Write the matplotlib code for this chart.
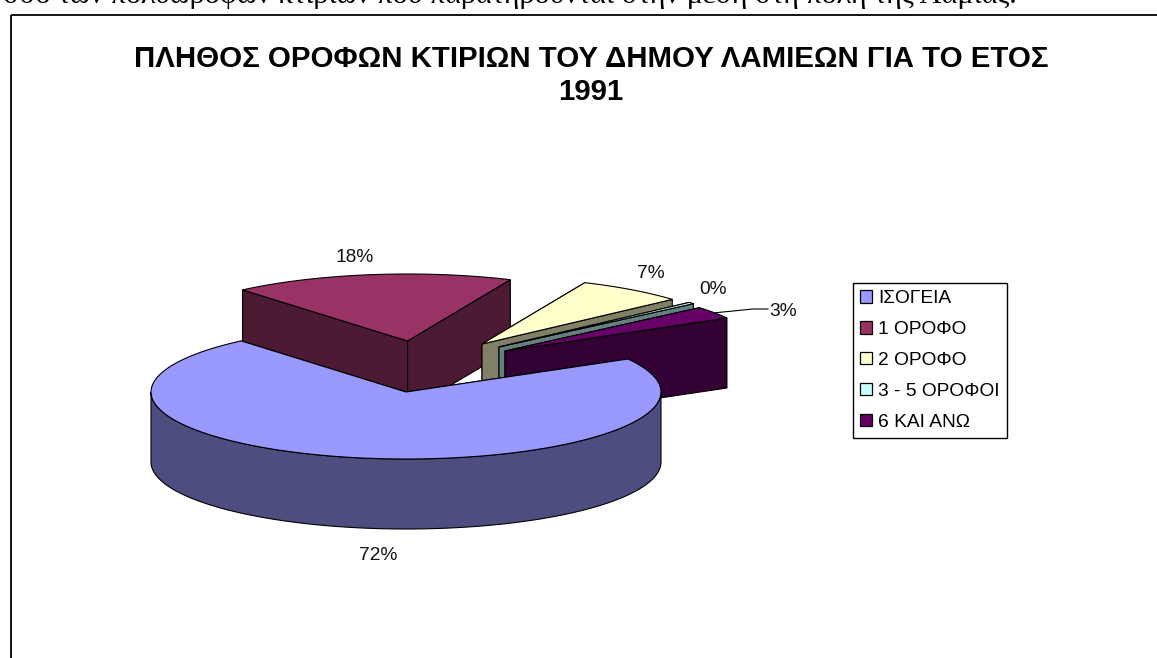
import matplotlib
matplotlib.use('Agg')
import matplotlib.pyplot as plt
from matplotlib.patches import Polygon, Patch, Rectangle
import numpy as np

# slice order as in the legend, third one is rounded down to 0% on the chart
categories = ['ΙΣΟΓΕΙΑ', '1 ΟΡΟΦΟ', '2 ΟΡΟΦΟ', '3 - 5 ΟΡΟΦΟΙ', '6 ΚΑΙ ΑΝΩ']
values = [72.0, 17.8, 6.8, 0.4, 3.0]

title = 'ΠΛΗΘΟΣ ΟΡΟΦΩΝ ΚΤΙΡΙΩΝ ΤΟΥ ΔΗΜΟΥ ΛΑΜΙΕΩΝ ΓΙΑ ΤΟ ΕΤΟΣ\n1991'
page_text = 'σσο των πολυώροφων κτιρίων που παρατηρούνται στην μέση στη πόλη της Λαμίας.'

top_colors = ['#9999FF', '#993366', '#FFFFCC', '#CCFFFF', '#660066']
side_colors = ['#4D4D80', '#4D1A33', '#808066', '#668080', '#330033']

# pie geometry, in pixels
center = (406, 392)
rx, ry = 255, 67
depth = 70
start = 60.5
offsets = [(0, 0), (1.5, -51), (76, -48), (93, -45), (99, -41)]
label_pos = [(378, 556), (355, 258), (651, 273), (713, 290), (783, 311)]
draw_order = [1, 2, 3, 4, 0]

plt.rcParams['font.family'] = ['Liberation Sans', 'DejaVu Sans']

fig = plt.figure(figsize=(11.57, 6.58), dpi=100)
ax = fig.add_axes([0, 0, 1, 1])
ax.set_xlim(0, 1157)
ax.set_ylim(658, 0)
ax.axis('off')


def point(t, cx, cy):
    t = np.radians(t)
    return cx + rx * np.sin(t), cy - ry * np.cos(t)


angles = start + np.cumsum([0] + values[:-1]) * 360 / sum(values)
sweeps = np.array(values) * 360 / sum(values)

ax.add_patch(Rectangle((11, 14.5), 1300, 800, fill=False, edgecolor='black', linewidth=1.3))
ax.text(1017, 3, page_text, family='Liberation Serif', fontsize=21.7, ha='right', va='baseline')

for i in draw_order:
    cx = center[0] + offsets[i][0]
    cy = center[1] + offsets[i][1]
    t0, t1 = angles[i], angles[i] + sweeps[i]

    # radial faces, the one further back first
    ends = sorted([t0, t1], key=lambda t: point(t, cx, cy)[1])
    for t in ends:
        x, y = point(t, cx, cy)
        ax.add_patch(Polygon([(cx, cy), (x, y), (x, y + depth), (cx, cy + depth)],
                             facecolor=side_colors[i], edgecolor='black', linewidth=0.8))

    # outer wall, only the front half of the ellipse shows
    lo, hi = max(t0, 90), min(t1, 270)
    if lo < hi:
        ts = np.linspace(lo, hi, 120)
        xs, ys = point(ts, cx, cy)
        wall = list(zip(xs, ys)) + list(zip(xs[::-1], ys[::-1] + depth))
        ax.add_patch(Polygon(wall, facecolor=side_colors[i], edgecolor='black', linewidth=0.8))

    ts = np.linspace(t0, t1, 120)
    xs, ys = point(ts, cx, cy)
    top = [(cx, cy)] + list(zip(xs, ys))
    ax.add_patch(Polygon(top, facecolor=top_colors[i], edgecolor='black', linewidth=0.8))

for v, (x, y) in zip(values, label_pos):
    ax.text(x, y, f'{v:.0f}%', fontsize=13.8, ha='center', va='center', color='#111111')
ax.plot([713, 753, 768], [313, 309, 309], color='black', linewidth=0.8)

ax.text(591, 75.5, title, fontsize=21.2, fontweight='bold', ha='center', va='center',
        multialignment='center', linespacing=1.27)

handles = [Patch(facecolor=c, edgecolor='black', linewidth=0.9) for c in top_colors]
ax.legend(handles, categories, loc='upper left', bbox_to_anchor=(852.7, 282.7),
          bbox_transform=ax.transData, fontsize=13.8, fancybox=False, framealpha=1,
          edgecolor='black', borderaxespad=0, borderpad=0.4, labelspacing=0.72,
          handlelength=0.62, handleheight=0.62, handletextpad=0.3)

fig.savefig('out.png', dpi=100)
